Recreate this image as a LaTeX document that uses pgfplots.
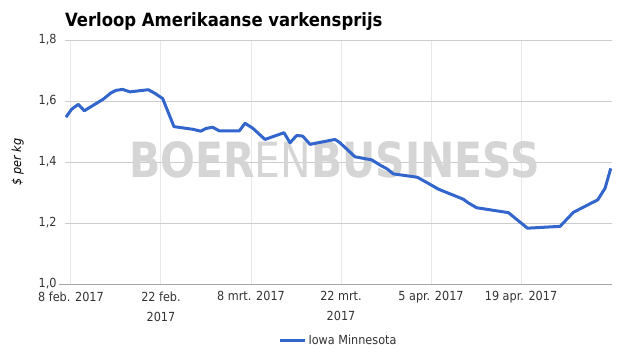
\documentclass[border=0pt]{standalone}
\usepackage{fontspec}
\setmainfont{DejaVu Sans Condensed}
\usepackage{pgfplots}
\pgfplotsset{compat=1.18}
\definecolor{lineblue}{HTML}{3366CC}
\definecolor{gridh}{HTML}{CCCCCC}
\definecolor{gridv}{HTML}{E8E8E8}
\definecolor{txt}{HTML}{333333}
\definecolor{wm}{HTML}{D5D5D5}
\begin{document}
\begin{tikzpicture}[x=1bp,y=1bp]
\useasboundingbox (-65,-71) rectangle (560,284);
\node[anchor=base west,font=\fontsize{18.3bp}{22bp}\selectfont\bfseries,text=black,inner sep=0pt] at (0,258) {Verloop Amerikaanse varkensprijs};
\begin{axis}[
  at={(0,0)}, anchor=south west,
  scale only axis, width=547bp, height=244bp,
  xmin=-0.93, xmax=84.15, ymin=1.0, ymax=1.8,
  axis line style={draw=none},
  tick style={draw=none},
  xtick={0,14,28,42,56,70},
  xticklabels={8 feb. 2017,22 feb.\\2017,8 mrt. 2017,22 mrt.\\2017,5 apr. 2017,19 apr. 2017},
  xticklabel style={align=center,font=\fontsize{12.5bp}{20bp}\selectfont,text=txt,anchor=north,yshift=-4bp},
  ytick={1.0,1.2,1.4,1.6,1.8},
  yticklabel style={font=\fontsize{12.5bp}{15bp}\selectfont,text=txt,xshift=-5bp,/pgf/number format/.cd,use comma,fixed,fixed zerofill,precision=1},
  /pgf/number format/assume math mode=true,
  xmajorgrids, ymajorgrids,
  x grid style={gridv,line width=1bp},
  y grid style={gridh,line width=1bp},
  ylabel={\itshape \$ per kg},
  ylabel style={font=\fontsize{12.5bp}{15bp}\selectfont,text=black,at={(axis description cs:-0.069,0.5)},anchor=south},
  legend style={at={(axis description cs:0.5,-0.23)},anchor=center,draw=none,fill=none,font=\fontsize{12.5bp}{15bp}\selectfont,text=txt,legend cell align=left},
  legend image code/.code={\draw[#1,line width=3bp] (0bp,0bp) -- (25bp,0bp);},
  clip=false,
]
\node[text=wm,inner sep=0pt] at (axis cs:41,1.407) {\resizebox{410bp}{36bp}{\bfseries BOER\mdseries EN\bfseries BUSINESS}};
\draw[color=gray!70,line width=1bp] (axis cs:-1.8,1.0) -- (axis cs:84.15,1.0);
\addplot[color=lineblue,line width=3bp,line join=round] coordinates {
(-0.78,1.547) (0.1,1.573) (1.14,1.589) (2.07,1.568) (5.02,1.606) (6.18,1.626)
(7.0,1.635) (8.04,1.638) (9.18,1.630) (12.02,1.637) (13.07,1.625) (14.26,1.608)
(16.02,1.516) (19.02,1.507) (20.18,1.501) (21.0,1.510) (22.04,1.514) (23.07,1.502)
(26.18,1.502) (27.07,1.527) (28.26,1.511) (30.18,1.474) (33.13,1.496) (34.07,1.463)
(35.1,1.487) (36.04,1.485) (37.18,1.458) (41.07,1.474) (41.84,1.463) (44.18,1.417)
(46.78,1.407) (48.07,1.390) (49.2,1.377) (50.14,1.361) (53.87,1.350) (55.58,1.330)
(57.14,1.311) (61.02,1.278) (61.8,1.266) (63.1,1.250) (68.03,1.234) (71.0,1.183)
(76.07,1.189) (78.14,1.235) (81.93,1.276) (83.07,1.314) (83.95,1.379)
};
\addlegendentry{Iowa Minnesota}
\end{axis}
\end{tikzpicture}
\end{document}
